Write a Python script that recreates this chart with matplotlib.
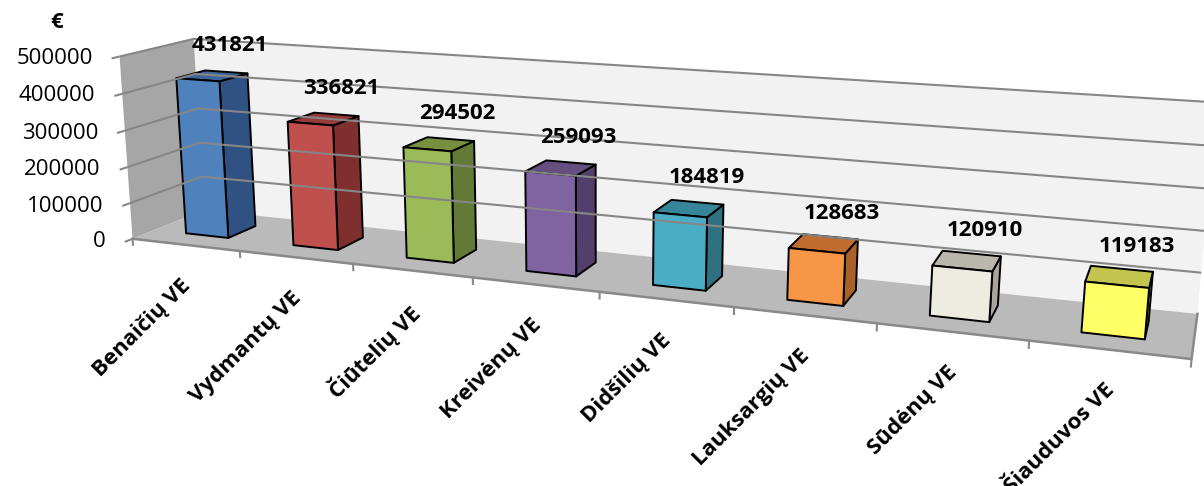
import matplotlib
matplotlib.use("Agg")
import matplotlib.pyplot as plt
import numpy as np

stations = ["Benaičių VE", "Vydmantų VE", "Čiūtelių VE", "Kreivėnų VE",
            "Didšilių VE", "Lauksargių VE", "Sūdėnų VE", "Šiauduvos VE"]
values = [431821, 336821, 294502, 259093, 184819, 128683, 120910, 119183]
value_ticks = [0, 100000, 200000, 300000, 400000, 500000]

front_colors = ["#4f81bd", "#c0504d", "#9bbb59", "#8064a2",
                "#4bacc6", "#f79646", "#eeece1", "#ffff66"]
side_colors = ["#2f5282", "#7f302e", "#637a36", "#533f6c",
               "#2f7081", "#a9612a", "#a7a59c", "#a6a642"]
top_colors = ["#3c659b", "#953b39", "#77903f", "#644f80",
              "#378599", "#c06c2e", "#bab8ad", "#c4c450"]

UNIT = 100000.0   # one step of the value axis in world units

# perspective camera: (category, depth, value / UNIT, 1) -> pixel (homogeneous)
CAMERA = np.array([
    [100.94, 85.0484, -3.24613, 132.552],
    [5.55956, -14.5506, -36.7584, 238.805],
    [-0.0263821, 0.0671713, -0.00541655, 1.0],
])


def project(x, y, z):
    h = CAMERA @ np.array([x, y, z, 1.0])
    return h[0] / h[2], h[1] / h[2]


def poly(pts):
    return np.array([project(*p) for p in pts]).T


plt.rcParams["font.family"] = ["Open Sans", "DejaVu Sans"]
fig = plt.figure(figsize=(12.04, 4.86), dpi=100)
ax = fig.add_axes([0, 0, 1, 1])
ax.set_xlim(0, 1204)
ax.set_ylim(486, 0)
ax.axis("off")

n = len(values)
depth = 1.0
top = value_ticks[-1] / UNIT

# back wall, side wall, floor
ax.fill(*poly([(0, depth, 0), (n, depth, 0), (n, depth, top), (0, depth, top)]),
        color="#f2f2f2", lw=0)
ax.fill(*poly([(0, 0, 0), (0, depth, 0), (0, depth, top), (0, 0, top)]),
        color="#a6a6a6", lw=0)
ax.fill(*poly([(0, 0, 0), (n, 0, 0), (n, depth, 0), (0, depth, 0)]),
        color="#bababa", lw=0)

grid_kw = dict(color="#868686", lw=1.5, solid_capstyle="butt")
for t in value_ticks[1:]:
    z = t / UNIT
    ax.plot(*poly([(0, 0, z), (0, depth, z), (n, depth, z)]), **grid_kw)
for t in value_ticks:
    z = t / UNIT
    ax.plot(*poly([(0, 0, z), (0, -0.1, z)]), **grid_kw)
    ax.annotate(f"{t}", project(0, -0.1, z), xytext=(-19, 0),
                textcoords="offset pixels", ha="right", va="center",
                fontsize=16)

# floor edge and category ticks
ax.plot(*poly([(0, 0, 0), (n, 0, 0), (n, depth, 0)]), color="#898989", lw=1.8)
for i in range(n + 1):
    ax.plot(*poly([(i, 0, 0), (i, 0, -0.17)]), color="#898989", lw=1.5)

bar_w = 0.4
y0, y1 = 0.3, 0.7
edge = dict(edgecolor="black", lw=1.4, joinstyle="round")
for i, v in enumerate(values):
    x0, x1 = i + 0.5 - bar_w / 2, i + 0.5 + bar_w / 2
    h = v / UNIT
    ax.fill(*poly([(x1, y0, 0), (x1, y1, 0), (x1, y1, h), (x1, y0, h)]),
            facecolor=side_colors[i], **edge)
    ax.fill(*poly([(x0, y0, h), (x1, y0, h), (x1, y1, h), (x0, y1, h)]),
            facecolor=top_colors[i], **edge)
    ax.fill(*poly([(x0, y0, 0), (x1, y0, 0), (x1, y0, h), (x0, y0, h)]),
            facecolor=front_colors[i], **edge)

    ax.annotate(f"{v}", project(i + 0.5, 0.5, h), xytext=(18, 25),
                textcoords="offset pixels", ha="center", va="baseline",
                fontsize=16, fontweight="bold")
    ax.annotate(stations[i], project(i + 0.5, 0, 0), xytext=(-5, -30),
                textcoords="offset pixels", ha="right", va="top",
                rotation=45, rotation_mode="anchor",
                fontsize=16, fontweight="bold")

ax.text(57, 22, "€", ha="center", va="center", fontsize=16, fontweight="bold")

fig.savefig("out.png", dpi=100)
